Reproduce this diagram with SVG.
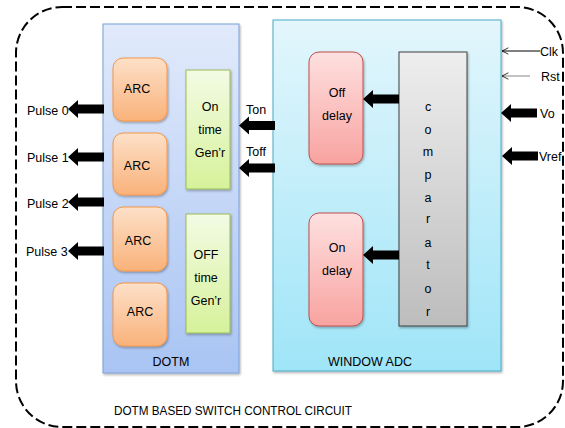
<svg xmlns="http://www.w3.org/2000/svg" width="565" height="428" viewBox="0 0 565 428">
  <defs>
    <linearGradient id="gDotm" x1="0" y1="0" x2="0" y2="1">
      <stop offset="0" stop-color="#e1eafb"/>
      <stop offset="1" stop-color="#a9c4f3"/>
    </linearGradient>
    <linearGradient id="gAdc" x1="0" y1="0" x2="0" y2="1">
      <stop offset="0" stop-color="#e3f6fc"/>
      <stop offset="1" stop-color="#9fe5f8"/>
    </linearGradient>
    <linearGradient id="gArc" x1="0" y1="0" x2="0" y2="1">
      <stop offset="0" stop-color="#fde0c8"/>
      <stop offset="1" stop-color="#f9b27a"/>
    </linearGradient>
    <linearGradient id="gGen" x1="0" y1="0" x2="0" y2="1">
      <stop offset="0" stop-color="#f3fbe4"/>
      <stop offset="1" stop-color="#d6f29a"/>
    </linearGradient>
    <linearGradient id="gDelay" x1="0" y1="0" x2="0" y2="1">
      <stop offset="0" stop-color="#fee0e0"/>
      <stop offset="1" stop-color="#f8a3a0"/>
    </linearGradient>
    <linearGradient id="gComp" x1="0" y1="0" x2="0" y2="1">
      <stop offset="0" stop-color="#eeeeee"/>
      <stop offset="1" stop-color="#bdbdbd"/>
    </linearGradient>
    <filter id="shadow" x="-20%" y="-20%" width="140%" height="140%">
      <feDropShadow dx="1" dy="1.5" stdDeviation="1" flood-color="#000" flood-opacity="0.3"/>
    </filter>
    <!-- thick left-pointing block arrow, tip at origin -->
    <path id="bigArrow" d="M0 0 L10 -9 L10 -4.5 L36 -4.5 L36 4.5 L10 4.5 L10 9 Z"/>
    <!-- thin open arrowhead, drawn along the line direction -->
    <marker id="openHead" viewBox="0 0 10 10" refX="9" refY="5" markerWidth="8" markerHeight="8" orient="auto" markerUnits="userSpaceOnUse">
      <path d="M1 1 L9 5 L1 9" fill="none" stroke="#000" stroke-width="1"/>
    </marker>
  </defs>
  <style>
    text { font-family: "Liberation Sans", Arial, sans-serif; font-size: 12.5px; fill: #000; }
    .c { text-anchor: middle; }
    .arc { fill: url(#gArc); stroke: #f79646; stroke-width: 1; filter: url(#shadow); }
    .gen { fill: url(#gGen); stroke: #9bbb59; stroke-width: 1; filter: url(#shadow); }
    .delay { fill: url(#gDelay); stroke: #c0504d; stroke-width: 1; filter: url(#shadow); }
    .arrow { fill: #000; }
  </style>

  <!-- outer dashed boundary -->
  <rect x="16" y="7" width="547" height="420" rx="46" ry="46" fill="none" stroke="#000" stroke-width="2" stroke-dasharray="10,4"/>

  <!-- DOTM block -->
  <g id="dotm">
    <rect x="103" y="24" width="136" height="349" fill="url(#gDotm)" stroke="#7a9fd6" stroke-width="1" filter="url(#shadow)"/>
    <text x="171" y="366" class="c">DOTM</text>
  </g>

  <g id="arc0">
    <rect class="arc" x="113" y="58" width="54" height="63" rx="10"/>
    <text x="137" y="93" class="c">ARC</text>
  </g>
  <g id="arc1">
    <rect class="arc" x="113" y="133" width="54" height="62" rx="10"/>
    <text x="137" y="170" class="c">ARC</text>
  </g>
  <g id="arc2">
    <rect class="arc" x="113" y="207" width="54" height="64" rx="10"/>
    <text x="138" y="245" class="c">ARC</text>
  </g>
  <g id="arc3">
    <rect class="arc" x="113" y="283" width="54" height="63" rx="10"/>
    <text x="140" y="316" class="c">ARC</text>
  </g>

  <g id="ontime">
    <rect class="gen" x="186" y="70" width="44" height="119"/>
    <text x="210" y="111" class="c">On</text>
    <text x="210" y="134" class="c">time</text>
    <text x="210" y="157" class="c">Gen’r</text>
  </g>
  <g id="offtime">
    <rect class="gen" x="186" y="214" width="44" height="119"/>
    <text x="206" y="259" class="c">OFF</text>
    <text x="206" y="282" class="c">time</text>
    <text x="206" y="305" class="c">Gen’r</text>
  </g>

  <!-- WINDOW ADC block -->
  <g id="windowadc">
    <rect x="273" y="20" width="228" height="351" fill="url(#gAdc)" stroke="#4bacc6" stroke-width="1" filter="url(#shadow)"/>
    <text x="370" y="366" class="c">WINDOW ADC</text>
  </g>

  <g id="offdelay">
    <rect class="delay" x="309" y="52" width="54" height="112" rx="10"/>
    <text x="337" y="97" class="c">Off</text>
    <text x="337" y="120" class="c">delay</text>
  </g>
  <g id="ondelay">
    <rect class="delay" x="309" y="213" width="54" height="113" rx="10"/>
    <text x="337" y="252" class="c">On</text>
    <text x="337" y="275" class="c">delay</text>
  </g>

  <g id="comparator">
    <rect x="399" y="52" width="68" height="274" fill="url(#gComp)" stroke="#404040" stroke-width="1" filter="url(#shadow)"/>
    <text x="428" y="111" class="c">c</text>
    <text x="428" y="134" class="c">o</text>
    <text x="428" y="156" class="c">m</text>
    <text x="428" y="179" class="c">p</text>
    <text x="428" y="202" class="c">a</text>
    <text x="428" y="223" class="c">r</text>
    <text x="428" y="247" class="c">a</text>
    <text x="428" y="269" class="c">t</text>
    <text x="428" y="293" class="c">o</text>
    <text x="428" y="316" class="c">r</text>
  </g>

  <!-- connectors -->
  <g id="connectors">
    <use href="#bigArrow" class="arrow" x="68" y="109"/>
    <use href="#bigArrow" class="arrow" x="68" y="157"/>
    <use href="#bigArrow" class="arrow" x="68" y="202"/>
    <use href="#bigArrow" class="arrow" x="68" y="251"/>
    <use href="#bigArrow" class="arrow" x="239" y="125.5"/>
    <use href="#bigArrow" class="arrow" x="239" y="168"/>
    <use href="#bigArrow" class="arrow" x="363" y="99"/>
    <use href="#bigArrow" class="arrow" x="363" y="255"/>
    <use href="#bigArrow" class="arrow" x="501" y="113"/>
    <use href="#bigArrow" class="arrow" x="502" y="156"/>
    <line x1="540" y1="51" x2="502" y2="51" stroke="#000" stroke-width="1" marker-end="url(#openHead)"/>
    <line x1="530" y1="76" x2="502" y2="76" stroke="#555" stroke-width="0.7" marker-end="url(#openHead)"/>
  </g>

  <!-- signal labels -->
  <g id="labels">
    <text x="27" y="115">Pulse 0</text>
    <text x="27" y="162">Pulse 1</text>
    <text x="27" y="208">Pulse 2</text>
    <text x="26" y="256">Pulse 3</text>
    <text x="246" y="114">Ton</text>
    <text x="246" y="156">Toff</text>
    <text x="540" y="56">Clk</text>
    <text x="541" y="81">Rst</text>
    <text x="540" y="118">Vo</text>
    <text x="539" y="161">Vref</text>
    <text x="114" y="415" textLength="238" lengthAdjust="spacingAndGlyphs">DOTM BASED SWITCH CONTROL CIRCUIT</text>
  </g>
</svg>
